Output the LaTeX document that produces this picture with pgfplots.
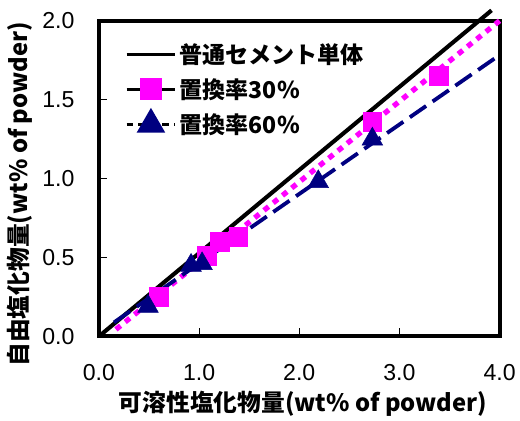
\documentclass[border=0pt]{standalone}
\usepackage{pgfplots}
\pgfplotsset{compat=1.18}
\usepackage{fontspec}
\setmainfont{Liberation Sans}
\newfontfamily\jp{Noto Sans CJK JP}
\definecolor{mag}{rgb}{1,0,1}
\definecolor{nav}{rgb}{0,0,0.5}
\begin{document}
\begin{tikzpicture}
\path (-75pt,-55.5pt) rectangle (315pt,255pt);
\begin{axis}[
  at={(0,0)}, anchor=south west,
  width=303.75pt, height=239.25pt, scale only axis,
  xmin=0, xmax=4, ymin=0, ymax=2,
  xtick={0,1,2,3,4}, ytick={0,0.5,1,1.5,2},
  xticklabels={0.0,1.0,2.0,3.0,4.0},
  yticklabels={0.0,0.5,1.0,1.5,2.0},
  tick align=inside, xtick pos=bottom, ytick pos=left,
  major tick length=6pt,
  major tick style={line width=0.8pt, black},
  axis line style={line width=3pt},
  ticklabel style={font=\fontsize{17.5}{20}\selectfont},
  xticklabel style={yshift=-18pt},
  yticklabel style={xshift=-15pt},
  xlabel={可溶性塩化物量(wt\% of powder)},
  ylabel={自由塩化物量(wt\% of powder)},
  label style={font=\jp\bfseries\fontsize{18}{22}\selectfont},
  xlabel style={at={(axis description cs:0.509,-0.213)}, anchor=center},
  ylabel style={at={(axis description cs:-0.1975,0.45)}, anchor=center},
  clip=false,
  legend image code/.code={\draw[mark repeat=2,mark phase=2,#1] plot coordinates {(0pt,0pt)(18.5pt,0pt)(37pt,0pt)};},
  legend style={draw=none, fill=none, at={(axis description cs:0,1)}, anchor=north west,
    xshift=19.5pt, yshift=-15pt, font=\jp\bfseries\fontsize{17.5}{21}\selectfont, row sep=6pt, inner sep=0pt},
  legend cell align=left,
]
\addplot[black, line width=3.1pt, forget plot] coordinates {(0,0) (3.92,2.066)};
\addplot[mag, line width=4pt, dash pattern=on 4.5pt off 4.5pt, forget plot] coordinates {(0.17,0.044) (4,2)};
\addplot[only marks, mark=square*, mark size=7.1pt, mag, forget plot] coordinates {
  (0.60,0.25) (1.08,0.51) (1.21,0.60) (1.39,0.63) (2.73,1.36) (3.39,1.65)};
\addplot[nav, line width=2.9pt, dash pattern=on 15pt off 6pt, forget plot] coordinates {(0.15,0.088) (3.98,1.774)};
\addplot[only marks, mark=triangle*, mark size=9pt, nav, forget plot] coordinates {
  (0.49,0.19) (0.92,0.45) (1.03,0.46) (2.19,0.98) (2.73,1.25)};
\addlegendimage{black, line width=2.5pt}
\addlegendentry{普通セメント単体}
\addlegendimage{black, line width=2.5pt, mark=square*, mark size=7.1pt, mark options={mag, solid}}
\addlegendentry{置換率30\%}
\addlegendimage{black, line width=2.5pt, dash pattern=on 5pt off 4pt, mark=triangle*, mark size=10pt, mark options={nav, solid}}
\addlegendentry{置換率60\%}
\end{axis}
\end{tikzpicture}
\end{document}
